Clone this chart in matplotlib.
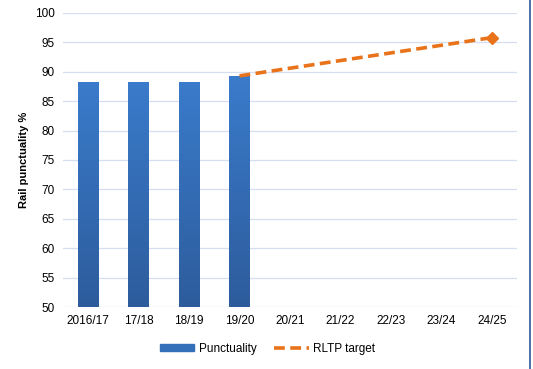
import numpy as np
import matplotlib.pyplot as plt
from matplotlib.lines import Line2D
from matplotlib.colors import LinearSegmentedColormap

plt.rcParams['font.family'] = ['Liberation Sans', 'DejaVu Sans']

years = ["2016/17", "17/18", "18/19", "19/20", "20/21", "21/22", "22/23", "23/24", "24/25"]
punctuality = [88.3, 88.3, 88.3, 89.3]
target_years = ["19/20", "24/25"]
target = [89.3, 95.8]

fig = plt.figure(figsize=(5.33, 3.69), dpi=100)
ax = fig.add_axes([0.118, 0.168, 0.852, 0.797])

x = np.arange(len(years))
bars = ax.bar(x[:len(punctuality)], np.array(punctuality) - 50, bottom=50,
              width=0.4, color="#3470BA", zorder=2, label="Punctuality")

# vertical gradient on the bars
grad = np.linspace(0, 1, 256).reshape(-1, 1)
cmap = LinearSegmentedColormap.from_list("b", ["#2D5C9C", "#3A7BCB"])
for b in bars:
    im = ax.imshow(grad, cmap=cmap, aspect="auto", origin="lower",
                   extent=[b.get_x(), b.get_x() + b.get_width(), 50, 50 + b.get_height()],
                   zorder=2)
    im.set_clip_path(b)

tx = [years.index(t) for t in target_years]
ax.plot(tx, target, color="#E8731A", lw=2.6, ls=(0, (3, 1.5)), zorder=3, label="RLTP target")
ax.plot(tx[-1], target[-1], marker="D", ms=6, color="#E8731A", zorder=4)

ax.set_xlim(-0.5, len(years) - 0.5)
ax.set_ylim(50, 100)
ax.set_yticks(range(50, 101, 5))
ax.set_xticks(x)
ax.set_xticklabels(years)
ax.tick_params(length=0, labelsize=8.5, colors="#000000", pad=6)
ax.grid(axis="y", color="#D6DFF0", lw=0.9, zorder=0)
ax.set_axisbelow(True)
for s in ax.spines.values():
    s.set_visible(False)
ax.set_ylabel("Rail punctuality %", fontsize=8, fontweight="bold", labelpad=4)

handles = [plt.Rectangle((0, 0), 1, 1, color="#3470BA"),
           Line2D([0], [0], color="#E8731A", lw=2.6, ls=(0, (3, 1.5)))]
fig.legend(handles, ["Punctuality", "RLTP target"], loc="center", ncol=2,
           bbox_to_anchor=(0.502, 0.055), frameon=False, fontsize=8.5,
           handlelength=2.9, handletextpad=0.4, columnspacing=1.5, handleheight=0.6)

fig.add_artist(Line2D([0.995, 0.995], [0, 1], color="#2F5597", lw=1.2))

fig.savefig("out.png", dpi=100)
